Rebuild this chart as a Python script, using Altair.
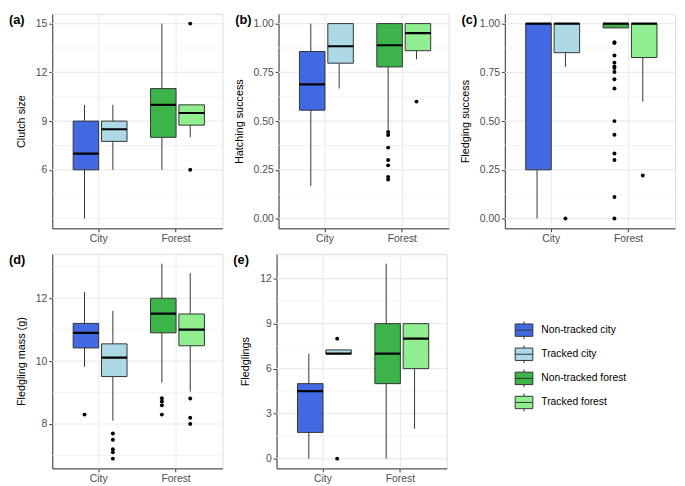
import altair as alt
import pandas as pd

FONT = "Liberation Sans"

sites = ["City", "Forest"]
tracked = ["Non-tracked", "Tracked"]
groups = ["Non-tracked city", "Tracked city", "Non-tracked forest", "Tracked forest"]
group_site = ["City", "City", "Forest", "Forest"]
group_tracked = ["Non-tracked", "Tracked", "Non-tracked", "Tracked"]
colors = ["#4169E1", "#ADD8E6", "#3CB44A", "#90EE90"]

# (a) Clutch size: lower whisker, q1, median, q3, upper whisker per group
clutch_lower = [3, 6, 6, 8]
clutch_q1 = [6, 7.75, 8, 8.75]
clutch_med = [7, 8.5, 10, 9.5]
clutch_q3 = [9, 9, 11, 10]
clutch_upper = [10, 10, 15, 10]
clutch_out_grp = ["Tracked forest", "Tracked forest"]
clutch_out_val = [15, 6]

# (b) Hatching success
hatch_lower = [0.167, 0.667, 0.455, 0.818]
hatch_q1 = [0.556, 0.797, 0.778, 0.861]
hatch_med = [0.688, 0.884, 0.889, 0.951]
hatch_q3 = [0.857, 1.0, 1.0, 1.0]
hatch_upper = [1.0, 1.0, 1.0, 1.0]
hatch_out_grp = ["Non-tracked forest"] * 7 + ["Tracked forest"]
hatch_out_val = [0.444, 0.429, 0.364, 0.30, 0.273, 0.214, 0.20, 0.60]

# (c) Fledging success
fledge_lower = [0.0, 0.778, 0.978, 0.60]
fledge_q1 = [0.25, 0.851, 0.978, 0.826]
fledge_med = [1.0, 1.0, 1.0, 1.0]
fledge_q3 = [1.0, 1.0, 1.0, 1.0]
fledge_upper = [1.0, 1.0, 1.0, 1.0]
fledge_out_grp = ["Tracked city"] + ["Non-tracked forest"] * 15 + ["Tracked forest"]
fledge_out_val = [0.0, 0.905, 0.90, 0.836, 0.80, 0.78, 0.772, 0.752, 0.715,
                  0.667, 0.50, 0.43, 0.334, 0.30, 0.111, 0.0, 0.221]

# (d) Fledgling mass (g)
mass_lower = [9.82, 8.11, 9.32, 9.03]
mass_q1 = [10.42, 9.51, 10.9, 10.49]
mass_med = [10.9, 10.11, 11.51, 11.0]
mass_q3 = [11.2, 10.55, 12.0, 11.5]
mass_upper = [12.2, 11.6, 13.1, 12.8]
mass_out_grp = (["Non-tracked city"] + ["Tracked city"] * 5 +
                ["Non-tracked forest"] * 4 + ["Tracked forest"] * 3)
mass_out_val = [8.3, 7.7, 7.5, 7.2, 7.1, 6.9, 8.82, 8.72, 8.6, 8.3, 8.81, 8.2, 8.0]

# (e) Fledglings
fl_lower = [0, 7, 0, 2]
fl_q1 = [1.75, 7, 5, 6]
fl_med = [4.5, 7, 7, 8]
fl_q3 = [5, 7.25, 9, 9]
fl_upper = [7, 7.25, 13, 9]
fl_out_grp = ["Tracked city", "Tracked city"]
fl_out_val = [8, 0]

W = 173
H = 218
AXC = "#333333"
LEG_PATH = ("M-1,-0.7H1V0.7H-1Z M-1,0H1 M0,-0.7V-1 M0,0.7V1")


def panel(tag, ytitle, lower, q1, med, q3, upper, out_grp, out_val,
          domain, major, minor, fmt, legend=None):
    stats = pd.DataFrame({"group": groups, "site": group_site, "tracked": group_tracked,
                          "lower": lower, "q1": q1, "median": med, "q3": q3, "upper": upper})
    s_of = dict(zip(groups, group_site))
    t_of = dict(zip(groups, group_tracked))
    outs = pd.DataFrame({"group": out_grp, "value": out_val})
    outs["site"] = outs["group"].map(s_of)
    outs["tracked"] = outs["group"].map(t_of)

    xscale = alt.Scale(domain=sites, paddingInner=0.267, paddingOuter=0.2335)
    xaxis = alt.Axis(title=None, labelAngle=0, tickSize=3.5, tickColor=AXC,
                     domainColor=AXC, labelColor="#4D4D4D", labelFontSize=10.5,
                     labelPadding=2, grid=False)
    yscale = alt.Scale(domain=domain, nice=False, zero=False)
    yaxis = alt.Axis(values=major, format=fmt, tickSize=3.5, tickColor=AXC,
                     domainColor=AXC, labelColor="#4D4D4D", labelFontSize=10.5,
                     labelPadding=2, titlePadding=9, titleFontSize=11,
                     titleFontWeight="normal", titleColor="black", grid=False)
    xoff = alt.XOffset("tracked:N", scale=alt.Scale(domain=tracked, paddingInner=0,
                                                     paddingOuter=0))
    X = alt.X("site:N", scale=xscale, axis=xaxis)

    def Y(field):
        return alt.Y(field, scale=yscale, axis=yaxis, title=ytitle)

    gmin = alt.Chart(pd.DataFrame({"v": minor})).mark_rule(
        color="#EEEEEE", strokeWidth=0.7).encode(y=Y("v:Q"))
    gmaj = alt.Chart(pd.DataFrame({"v": major})).mark_rule(
        color="#EBEBEB", strokeWidth=1.1).encode(y=Y("v:Q"))
    gx = alt.Chart(pd.DataFrame({"site": sites})).mark_rule(
        color="#EBEBEB", strokeWidth=1.1).encode(x=X)

    base = alt.Chart(stats)
    whisk = base.mark_rule(color=AXC, strokeWidth=1).encode(
        x=X, xOffset=xoff, y=Y("lower:Q"), y2="upper:Q")
    fill = alt.Fill("group:N", scale=alt.Scale(domain=groups, range=colors),
                    legend=legend)
    box = base.mark_bar(stroke=AXC, strokeWidth=1, width=alt.RelativeBandSize(0.9),
                        opacity=1).encode(
        x=X, xOffset=xoff, y=Y("q1:Q"), y2="q3:Q", fill=fill)
    medl = base.mark_bar(stroke="black", strokeWidth=2.2, fillOpacity=0,
                         width=alt.RelativeBandSize(0.9)).encode(
        x=X, xOffset=xoff, y=Y("median:Q"), y2="median:Q")
    pts = alt.Chart(outs).mark_circle(color="black", size=16, opacity=1).encode(
        x=X, xOffset=xoff, y=Y("value:Q"))
    lab = alt.Chart(pd.DataFrame({"t": [tag]})).mark_text(
        align="left", baseline="top", fontWeight="bold", fontSize=13, font=FONT,
        color="black").encode(x=alt.value(-44), y=alt.value(0), text="t:N")

    return alt.layer(gmin, gmaj, gx, whisk, box, medl, pts, lab).properties(
        width=W, height=H)


leg = alt.Legend(title=None, orient="none", legendX=242, legendY=68,
                 symbolType=LEG_PATH, symbolSize=324, symbolStrokeColor=AXC,
                 symbolStrokeWidth=1, symbolOpacity=1, labelFontSize=10.5,
                 labelColor="black", labelFont=FONT, rowPadding=1.5, labelOffset=8,
                 padding=0)

pa = panel("(a)", "Clutch size", clutch_lower, clutch_q1, clutch_med, clutch_q3,
           clutch_upper, clutch_out_grp, clutch_out_val, [2.4, 15.6],
           [6, 9, 12, 15], [3, 4.5, 7.5, 10.5, 13.5], "d")
pb = panel("(b)", "Hatching success", hatch_lower, hatch_q1, hatch_med, hatch_q3,
           hatch_upper, hatch_out_grp, hatch_out_val, [-0.05, 1.05],
           [0, 0.25, 0.5, 0.75, 1.0], [0.125, 0.375, 0.625, 0.875], ".2f")
pc = panel("(c)", "Fledging success", fledge_lower, fledge_q1, fledge_med, fledge_q3,
           fledge_upper, fledge_out_grp, fledge_out_val, [-0.05, 1.05],
           [0, 0.25, 0.5, 0.75, 1.0], [0.125, 0.375, 0.625, 0.875], ".2f")
pd_ = panel("(d)", "Fledgling mass (g)", mass_lower, mass_q1, mass_med, mass_q3,
            mass_upper, mass_out_grp, mass_out_val, [6.59, 13.41],
            [8, 10, 12], [7, 9, 11, 13], "d")
pe = panel("(e)", "Fledglings", fl_lower, fl_q1, fl_med, fl_q3, fl_upper,
           fl_out_grp, fl_out_val, [-0.65, 13.65],
           [0, 3, 6, 9, 12], [1.5, 4.5, 7.5, 10.5, 13.5], "d", legend=leg)

row1 = alt.hconcat(pa, pb, pc, spacing=8).resolve_scale(
    fill="independent", y="independent").resolve_legend(fill="independent")
row2 = alt.hconcat(pd_, pe, spacing=8).resolve_scale(
    fill="independent", y="independent").resolve_legend(fill="independent")

chart = alt.vconcat(row1, row2, spacing=7).resolve_scale(
    fill="independent", y="independent").resolve_legend(
    fill="independent").configure_view(stroke=None).configure(
    font=FONT, padding=0, background="white")

chart.save("out.html", embed_options={"renderer": "svg", "actions": False})
